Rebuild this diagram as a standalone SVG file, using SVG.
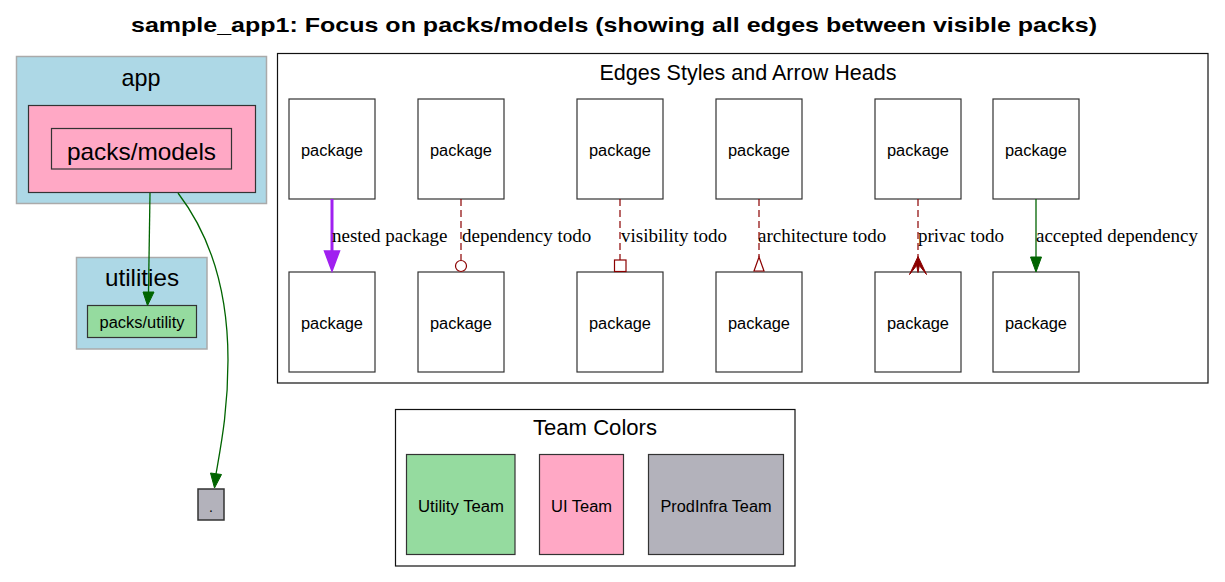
<svg xmlns="http://www.w3.org/2000/svg" width="1225" height="582" viewBox="0 0 1225 582">
<style>
.sans{font-family:"Liberation Sans",Arial,Helvetica,sans-serif;fill:#000}
.serif{font-family:"Liberation Serif","Times New Roman",serif;font-size:19px;fill:#000}
.node{fill:#fff;stroke:#333;stroke-width:1.2}
.pkg{font-size:16px}
.cl-blue{fill:#add8e6;stroke:#aaaaaa;stroke-width:1.5}
.cl-plain{fill:#fff;stroke:#111;stroke-width:1.2}
.todo{stroke:#8b0000;stroke-width:1.2;stroke-dasharray:7,4;fill:none}
.green{stroke:#006400;stroke-width:1.3;fill:none}
</style>
<rect width="1225" height="582" fill="#fff"/>
<text class="sans" x="614" y="32" text-anchor="middle" font-size="21" font-weight="bold" textLength="966" lengthAdjust="spacingAndGlyphs">sample_app1: Focus on packs/models (showing all edges between visible packs)</text>

<g id="cluster-app">
<rect class="cl-blue" x="16.5" y="56.5" width="250" height="147"/>
<text class="sans" x="141" y="86" text-anchor="middle" font-size="24" textLength="39" lengthAdjust="spacingAndGlyphs">app</text>
</g>
<g id="cluster-packs-models">
<rect x="28.5" y="105.5" width="227" height="87" fill="#ffa8c5" stroke="#333" stroke-width="1.2"/>
</g>
<g id="node-packs-models">
<rect x="51.5" y="128.5" width="180" height="40.5" fill="#ffa8c5" stroke="#333" stroke-width="1.2"/>
<text class="sans" x="141.5" y="159.5" text-anchor="middle" font-size="24" textLength="149" lengthAdjust="spacingAndGlyphs">packs/models</text>
</g>
<g id="cluster-utilities">
<rect class="cl-blue" x="76.5" y="257.5" width="130.5" height="91.5"/>
<text class="sans" x="142" y="286" text-anchor="middle" font-size="24" textLength="74" lengthAdjust="spacingAndGlyphs">utilities</text>
</g>
<g id="node-packs-utility">
<rect x="87.5" y="305.5" width="109" height="32" fill="#95db9f" stroke="#333" stroke-width="1.2"/>
<text class="sans" x="142" y="328" text-anchor="middle" font-size="16" textLength="85" lengthAdjust="spacingAndGlyphs">packs/utility</text>
</g>
<g id="node-dot">
<rect x="198" y="489" width="26" height="31" fill="#b3b2bb" stroke="#333" stroke-width="1.5"/>
<text class="sans" x="211" y="512" text-anchor="middle" font-size="14">.</text>
</g>

<g id="cluster-edge-styles">
<rect class="cl-plain" x="277.5" y="53.5" width="930.5" height="329.5"/>
<text class="sans" x="599.5" y="80" font-size="21.5" textLength="297" lengthAdjust="spacingAndGlyphs">Edges Styles and Arrow Heads</text>
</g>
<g id="legend-nodes">
<g id="leg-a1"><rect class="node" x="289" y="99" width="86" height="100"/><text class="sans pkg" x="332" y="156" text-anchor="middle" textLength="62" lengthAdjust="spacingAndGlyphs">package</text></g>
<g id="leg-a2"><rect class="node" x="289" y="272" width="86" height="100"/><text class="sans pkg" x="332" y="329" text-anchor="middle" textLength="62" lengthAdjust="spacingAndGlyphs">package</text></g>
<g id="leg-b1"><rect class="node" x="418" y="99" width="86" height="100"/><text class="sans pkg" x="461" y="156" text-anchor="middle" textLength="62" lengthAdjust="spacingAndGlyphs">package</text></g>
<g id="leg-b2"><rect class="node" x="418" y="272" width="86" height="100"/><text class="sans pkg" x="461" y="329" text-anchor="middle" textLength="62" lengthAdjust="spacingAndGlyphs">package</text></g>
<g id="leg-c1"><rect class="node" x="577" y="99" width="86" height="100"/><text class="sans pkg" x="620" y="156" text-anchor="middle" textLength="62" lengthAdjust="spacingAndGlyphs">package</text></g>
<g id="leg-c2"><rect class="node" x="577" y="272" width="86" height="100"/><text class="sans pkg" x="620" y="329" text-anchor="middle" textLength="62" lengthAdjust="spacingAndGlyphs">package</text></g>
<g id="leg-d1"><rect class="node" x="716" y="99" width="86" height="100"/><text class="sans pkg" x="759" y="156" text-anchor="middle" textLength="62" lengthAdjust="spacingAndGlyphs">package</text></g>
<g id="leg-d2"><rect class="node" x="716" y="272" width="86" height="100"/><text class="sans pkg" x="759" y="329" text-anchor="middle" textLength="62" lengthAdjust="spacingAndGlyphs">package</text></g>
<g id="leg-e1"><rect class="node" x="875" y="99" width="86" height="100"/><text class="sans pkg" x="918" y="156" text-anchor="middle" textLength="62" lengthAdjust="spacingAndGlyphs">package</text></g>
<g id="leg-e2"><rect class="node" x="875" y="272" width="86" height="100"/><text class="sans pkg" x="918" y="329" text-anchor="middle" textLength="62" lengthAdjust="spacingAndGlyphs">package</text></g>
<g id="leg-f1"><rect class="node" x="993" y="99" width="86" height="100"/><text class="sans pkg" x="1036" y="156" text-anchor="middle" textLength="62" lengthAdjust="spacingAndGlyphs">package</text></g>
<g id="leg-f2"><rect class="node" x="993" y="272" width="86" height="100"/><text class="sans pkg" x="1036" y="329" text-anchor="middle" textLength="62" lengthAdjust="spacingAndGlyphs">package</text></g>
</g>

<g id="cluster-team-colors">
<rect class="cl-plain" x="395.5" y="409.5" width="399.5" height="156.5"/>
<text class="sans" x="533" y="435" font-size="21.5" textLength="124" lengthAdjust="spacingAndGlyphs">Team Colors</text>
</g>
<g id="team-utility">
<rect x="406.5" y="454.5" width="108.5" height="100" fill="#95db9f" stroke="#333" stroke-width="1.2"/>
<text class="sans" x="461" y="511.5" text-anchor="middle" font-size="16" textLength="86" lengthAdjust="spacingAndGlyphs">Utility Team</text>
</g>
<g id="team-ui">
<rect x="539.5" y="454.5" width="84" height="100" fill="#ffa8c5" stroke="#333" stroke-width="1.2"/>
<text class="sans" x="581.5" y="511.5" text-anchor="middle" font-size="16" textLength="61" lengthAdjust="spacingAndGlyphs">UI Team</text>
</g>
<g id="team-prodinfra">
<rect x="648.5" y="454.5" width="135" height="100" fill="#b3b2bb" stroke="#333" stroke-width="1.2"/>
<text class="sans" x="716" y="511.5" text-anchor="middle" font-size="16" textLength="111" lengthAdjust="spacingAndGlyphs">ProdInfra Team</text>
</g>

<g id="connectors">
<path class="green" d="M150,193 L148.5,292"/>
<polygon points="143,292 154,292 147.5,305.5" fill="#006400" stroke="#006400"/>
<path class="green" d="M178,193 C210,235 228,290 228,360 C228,410 221,445 216,474"/>
<polygon points="210.5,473 221.5,474.5 214.5,488" fill="#006400" stroke="#006400"/>

<line x1="332" y1="199" x2="332" y2="252" stroke="#a020f0" stroke-width="3"/>
<polygon points="324.5,251 339.5,251 332,271" fill="#a020f0" stroke="#a020f0" stroke-width="1.5"/>
<text class="serif" x="332" y="242">nested package</text>

<line class="todo" x1="461" y1="199" x2="461" y2="260"/>
<circle cx="461" cy="266" r="5.5" fill="#fff" stroke="#8b0000" stroke-width="1.2"/>
<text class="serif" x="462" y="242">dependency todo</text>

<line class="todo" x1="620" y1="199" x2="620" y2="260"/>
<rect x="614.5" y="260" width="11.5" height="11.5" fill="#fff" stroke="#8b0000" stroke-width="1.2"/>
<text class="serif" x="621" y="242">visibility todo</text>

<line class="todo" x1="759" y1="199" x2="759" y2="257"/>
<polygon points="759,257 764,271 754,271" fill="#fff" stroke="#8b0000" stroke-width="1.2"/>
<text class="serif" x="758" y="242">architecture todo</text>

<line class="todo" x1="918" y1="199" x2="918" y2="258"/>
<path d="M909.5,274.5 L918,256.5 L926.5,274.5 L919.3,265.5 L918,272.5 L916.7,265.5 Z" fill="#8b0000" stroke="#8b0000" stroke-width="1"/>
<text class="serif" x="918" y="242">privac todo</text>

<line class="green" x1="1036" y1="199" x2="1036" y2="257"/>
<polygon points="1030.5,257 1041.5,257 1036,272" fill="#006400" stroke="#006400"/>
<text class="serif" x="1036" y="242">accepted dependency</text>
</g>
</svg>
